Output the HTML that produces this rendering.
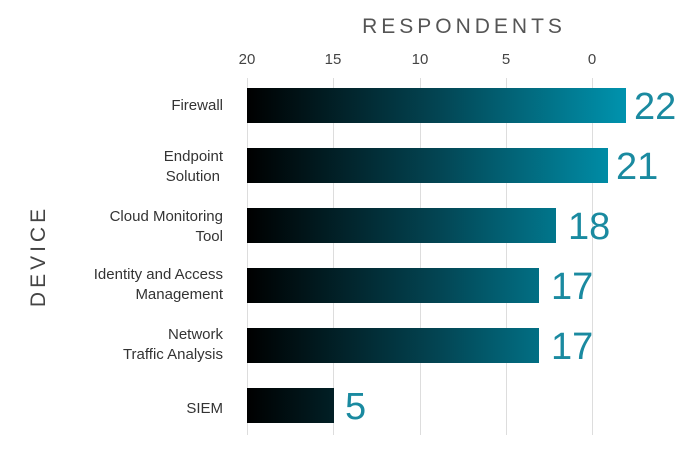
<!DOCTYPE html>
<html><head><style>body{margin:0;background:#fff}svg{display:block}</style></head><body>
<svg width="700" height="451" xmlns="http://www.w3.org/2000/svg" font-family="'Liberation Sans', sans-serif">
<defs><linearGradient id="g" gradientUnits="userSpaceOnUse" x1="247" y1="0" x2="626" y2="0"><stop offset="0" stop-color="#000"/><stop offset="0.5" stop-color="#034452"/><stop offset="1" stop-color="#0093ae"/></linearGradient></defs>
<text x="464" y="33" text-anchor="middle" font-size="21" letter-spacing="4" fill="#555">RESPONDENTS</text>
<g font-size="15" fill="#444" text-anchor="middle">
<text x="247" y="64">20</text><text x="333" y="64">15</text><text x="420" y="64">10</text><text x="506" y="64">5</text><text x="592" y="64">0</text></g>
<g stroke="#ddd" stroke-width="1">
<line x1="247.5" y1="78" x2="247.5" y2="435"/><line x1="333.5" y1="78" x2="333.5" y2="435"/><line x1="420.5" y1="78" x2="420.5" y2="435"/><line x1="506.5" y1="78" x2="506.5" y2="435"/><line x1="592.5" y1="78" x2="592.5" y2="435"/></g>
<g fill="url(#g)">
<rect x="247" y="88" width="379" height="35"/>
<rect x="247" y="148" width="361" height="35"/>
<rect x="247" y="208" width="309" height="35"/>
<rect x="247" y="268" width="292" height="35"/>
<rect x="247" y="328" width="292" height="35"/>
<rect x="247" y="388" width="87" height="35"/></g>
<g font-size="38" fill="#1a8aa0">
<text x="634" y="119">22</text><text x="616" y="179">21</text><text x="568" y="239">18</text><text x="551" y="299">17</text><text x="551" y="359">17</text><text x="345" y="419">5</text></g>
<g font-size="15" fill="#333" text-anchor="end">
<text x="223" y="110">Firewall</text>
<text x="223" y="161">Endpoint</text><text x="220" y="181">Solution</text>
<text x="223" y="221">Cloud Monitoring</text><text x="223" y="241">Tool</text>
<text x="223" y="279">Identity and Access</text><text x="223" y="299">Management</text>
<text x="223" y="339">Network</text><text x="223" y="359">Traffic Analysis</text>
<text x="223" y="413">SIEM</text></g>
<text transform="translate(45,256) rotate(-90)" text-anchor="middle" font-size="21" letter-spacing="4" fill="#444">DEVICE</text>
</svg>
</body></html>
